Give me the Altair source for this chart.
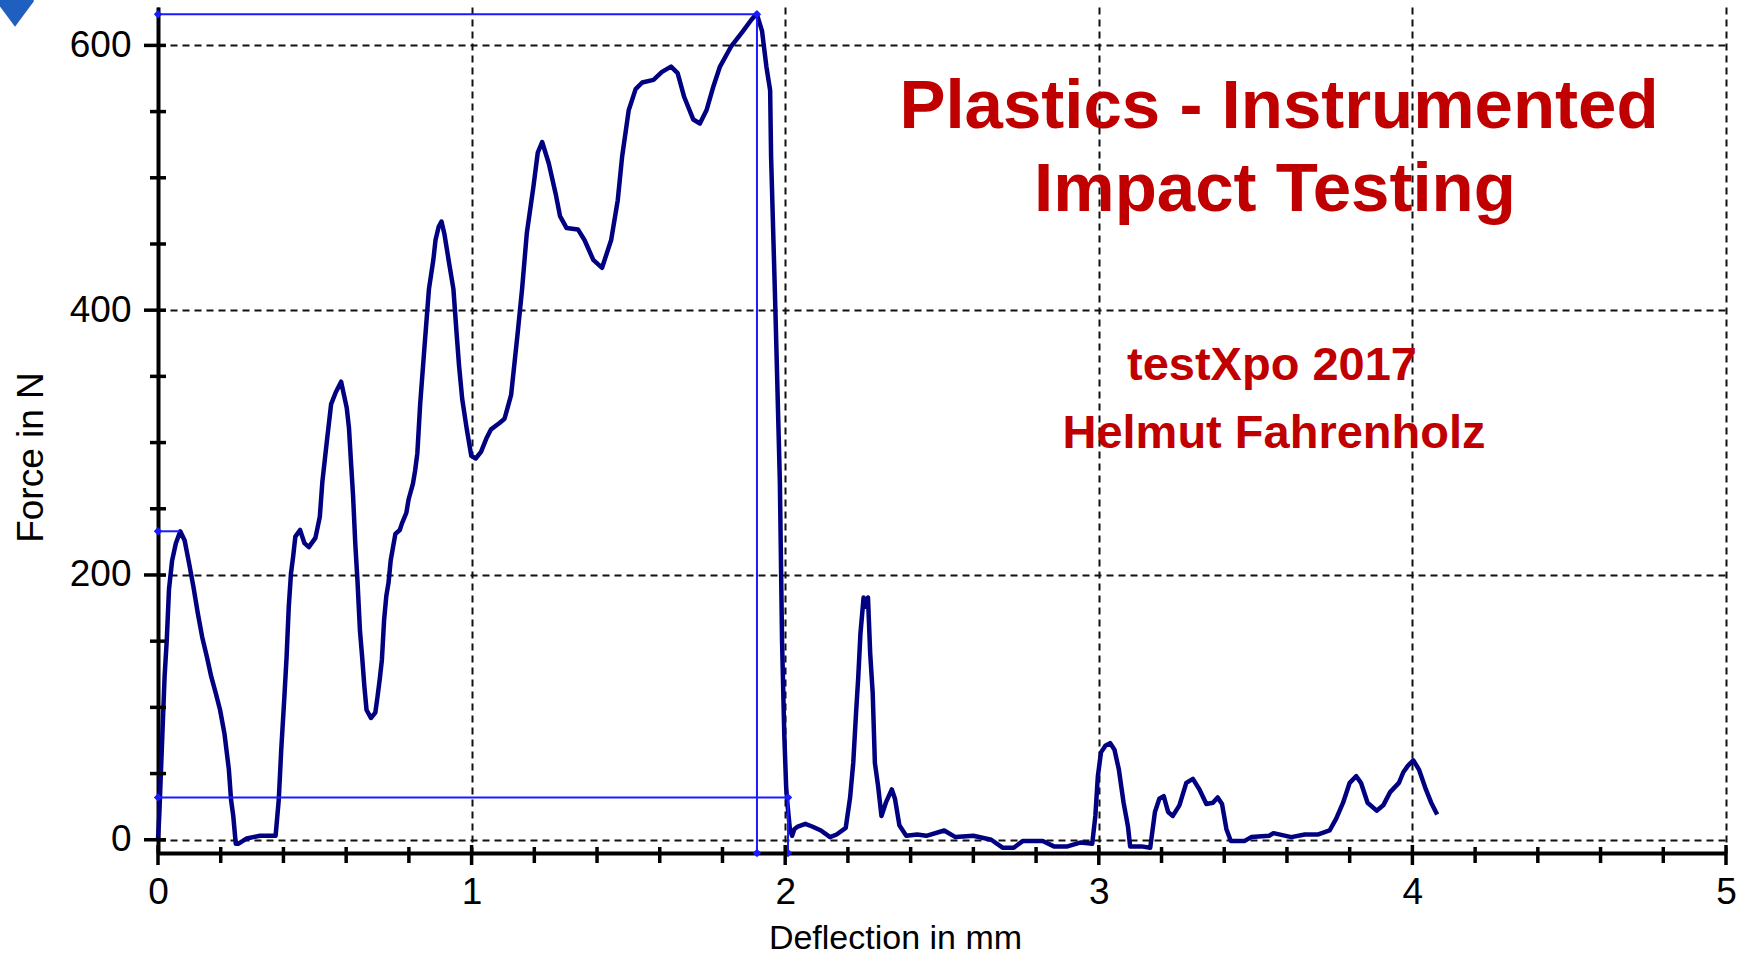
import altair as alt
import pandas as pd

# ---------------- data ----------------
deflection_mm = [
    0.000, 0.004, 0.014, 0.021, 0.028, 0.035, 0.045, 0.057, 0.071, 0.085,
    0.099, 0.113, 0.127, 0.141, 0.156, 0.170, 0.184, 0.198, 0.212, 0.226,
    0.233, 0.240, 0.248, 0.257, 0.283, 0.325, 0.375, 0.385, 0.393, 0.403,
    0.410, 0.417, 0.424, 0.431, 0.438, 0.453, 0.467, 0.481, 0.502, 0.516,
    0.524, 0.538, 0.552, 0.567, 0.584, 0.602, 0.609, 0.616, 0.622, 0.629,
    0.636, 0.644, 0.651, 0.658, 0.665, 0.679, 0.693, 0.700, 0.707, 0.714,
    0.721, 0.728, 0.735, 0.742, 0.757, 0.771, 0.778, 0.792, 0.799, 0.813,
    0.820, 0.827, 0.836, 0.850, 0.864, 0.878, 0.885, 0.895, 0.904, 0.913,
    0.928, 0.942, 0.952, 0.960, 0.970, 0.984, 0.999, 1.013, 1.030, 1.047,
    1.062, 1.090, 1.105, 1.126, 1.147, 1.161, 1.176, 1.197, 1.211, 1.225,
    1.246, 1.268, 1.282, 1.303, 1.339, 1.360, 1.388, 1.416, 1.445, 1.466,
    1.480, 1.501, 1.523, 1.544, 1.580, 1.607, 1.636, 1.657, 1.678, 1.707,
    1.728, 1.749, 1.771, 1.792, 1.827, 1.863, 1.891, 1.909, 1.926, 1.940,
    1.952, 1.955, 1.969, 1.983, 1.990, 1.997, 2.003, 2.008, 2.015, 2.022,
    2.029, 2.040, 2.064, 2.086, 2.114, 2.143, 2.164, 2.193, 2.207, 2.217,
    2.226, 2.233, 2.240, 2.250, 2.257, 2.264, 2.271, 2.279, 2.286, 2.296,
    2.307, 2.321, 2.340, 2.350, 2.364, 2.386, 2.421, 2.450, 2.507, 2.543,
    2.600, 2.657, 2.693, 2.729, 2.757, 2.821, 2.857, 2.900, 2.943, 2.979,
    2.989, 2.997, 3.007, 3.021, 3.036, 3.050, 3.064, 3.079, 3.093, 3.100,
    3.136, 3.164, 3.179, 3.193, 3.207, 3.221, 3.236, 3.257, 3.279, 3.300,
    3.321, 3.343, 3.364, 3.379, 3.393, 3.407, 3.421, 3.464, 3.486, 3.543,
    3.557, 3.614, 3.657, 3.700, 3.736, 3.757, 3.779, 3.800, 3.821, 3.836,
    3.857, 3.886, 3.907, 3.929, 3.957, 3.971, 3.986, 4.003, 4.021, 4.043,
    4.060, 4.079,
]
force_n = [
    0, 18, 80, 123, 151, 189, 211, 224, 233, 226,
    209, 191, 171, 153, 138, 123, 111, 98, 80, 53,
    30, 18, -3, -3, 1, 3, 3, 30, 68, 108,
    138, 176, 201, 214, 229, 234, 224, 221, 228, 244,
    270, 300, 329, 338, 346, 326, 311, 283, 260, 224,
    196, 158, 138, 116, 98, 92, 96, 108, 121, 136,
    166, 184, 194, 211, 231, 234, 239, 247, 257, 269,
    279, 292, 329, 373, 416, 438, 453, 463, 467, 458,
    436, 416, 383, 358, 333, 311, 290, 288, 293, 303,
    310, 315, 318, 336, 383, 416, 458, 493, 519, 527,
    511, 488, 471, 462, 461, 453, 438, 432, 453, 483,
    516, 551, 567, 572, 574, 580, 584, 579, 561, 544,
    541, 551, 569, 584, 599, 610, 619, 624, 611, 584,
    566, 516, 398, 270, 150, 80, 40, 25, 8, 3,
    8, 10, 12, 10, 7, 2, 4, 9, 32, 58,
    96, 123, 156, 183, 176, 183, 141, 111, 58, 41,
    18, 28, 38, 31, 11, 3, 4, 3, 7, 2,
    3, 0, -6, -6, -1, -1, -5, -5, -2, -3,
    18, 48, 66, 71, 73, 68, 53, 28, 10, -5,
    -5, -6, 21, 31, 33, 21, 18, 26, 43, 46,
    38, 27, 28, 32, 27, 8, -1, -1, 2, 3,
    5, 2, 4, 4, 7, 16, 28, 43, 48, 43,
    28, 22, 26, 36, 43, 51, 56, 60, 53, 38,
    28, 19,
]

# blue cursor lines (from -> to)
cursor_x1 = [0.0, 1.91, 0.0, 2.009, 0.0]
cursor_x2 = [1.91, 1.91, 2.009, 2.009, 0.07]
cursor_y1 = [623.5, 623.5, 32.0, 32.0, 233.0]
cursor_y2 = [623.5, -10.0, 32.0, -10.0, 233.0]

# cursor end markers
marker_x = [0.0, 0.0, 0.0, 1.91, 2.009, 2.009, 1.91]
marker_y = [623.5, 233.0, 32.0, -10.0, -10.0, 32.0, 623.5]

# axis labels / ticks
x_label_values = [0, 1, 2, 3, 4, 5]
y_label_values = [0, 200, 400, 600]
x_minor_ticks = [0.2, 0.4, 0.6, 0.8, 1.2, 1.4, 1.6, 1.8, 2.2, 2.4, 2.6, 2.8,
                 3.2, 3.4, 3.6, 3.8, 4.2, 4.4, 4.6, 4.8]
x_major_ticks = [0, 1, 2, 3, 4, 5]
y_minor_ticks = [50, 100, 150, 250, 300, 350, 450, 500, 550]
y_major_ticks = [0, 200, 400, 600]

title_lines = ["Plastics - Instrumented", "Impact Testing"]
sub_lines = ["testXpo 2017", "Helmut Fahrenholz"]

X_MIN, X_MAX = 0, 5
Y_MIN, Y_MAX = -10, 629

# ---------------- chart ----------------
FONT = "Liberation Sans"
RED = "#C00000"
NAVY = "#000080"
BLUE = "#1a1aff"

xs = alt.Scale(domain=[X_MIN, X_MAX], nice=False, zero=False)
ys = alt.Scale(domain=[Y_MIN, Y_MAX], nice=False, zero=False)

x_axis = alt.Axis(
    values=x_label_values, grid=True, gridDash=[7, 5], gridColor="#111111",
    gridWidth=2, ticks=False, domainColor="black", domainWidth=4,
    labelFont=FONT, labelFontSize=37, labelColor="black", labelPadding=21,
    labelFlush=False, labelOverlap=False,
    title="Deflection in mm", titleFont=FONT, titleFontSize=34,
    titleFontWeight="normal", titleColor="black", titleX=737, titleY=95,
    titleAlign="center", titleBaseline="alphabetic",
)
y_axis = alt.Axis(
    values=y_label_values, grid=True, gridDash=[7, 5], gridColor="#111111",
    gridWidth=2, ticks=False, domainColor="black", domainWidth=4,
    labelFont=FONT, labelFontSize=37, labelColor="black", labelPadding=27,
    labelFlush=False, labelOverlap=False,
    title="Force in N", titleFont=FONT, titleFontSize=37,
    titleFontWeight="normal", titleColor="black", titleX=-116, titleY=450,
    titleAngle=270, titleAlign="center", titleBaseline="alphabetic",
)


def X(field):
    return alt.X(field, type="quantitative", scale=xs, axis=x_axis)


def Y(field):
    return alt.Y(field, type="quantitative", scale=ys, axis=y_axis)


curve_df = pd.DataFrame({"x": deflection_mm, "y": force_n, "i": range(len(force_n))})
curve = alt.Chart(curve_df).mark_line(
    color=NAVY, strokeWidth=4.5, strokeJoin="round"
).encode(x=X("x"), y=Y("y"), order="i:Q")

cursor_df = pd.DataFrame({"x": cursor_x1, "x2": cursor_x2,
                          "y": cursor_y1, "y2": cursor_y2})
cursors = alt.Chart(cursor_df).mark_rule(color=BLUE, strokeWidth=2).encode(
    x=X("x"), x2="x2:Q", y=Y("y"), y2="y2:Q",
)

marker_df = pd.DataFrame({"x": marker_x, "y": marker_y})
markers = alt.Chart(marker_df).mark_point(
    shape="diamond", filled=True, color=BLUE, size=70, opacity=1
).encode(x=X("x"), y=Y("y"))


def xticks(vals, size):
    df = pd.DataFrame({"x": vals, "y": [Y_MIN] * len(vals)})
    return alt.Chart(df).mark_tick(
        orient="vertical", color="black", thickness=3.5, size=size,
        yOffset=2, opacity=1,
    ).encode(x=X("x"), y=Y("y"))


def yticks(vals, size, off):
    df = pd.DataFrame({"x": [X_MIN] * len(vals), "y": vals})
    return alt.Chart(df).mark_tick(
        orient="horizontal", color="black", thickness=3.5, size=size,
        xOffset=off, opacity=1,
    ).encode(x=X("x"), y=Y("y"))


tick_layers = [
    xticks(x_minor_ticks, 16), xticks(x_major_ticks, 20),
    yticks(y_minor_ticks, 16, 0), yticks(y_major_ticks, 22, -3),
]


def text_line(txt, x, y, size):
    return alt.Chart(pd.DataFrame({"t": [txt]})).mark_text(
        font=FONT, fontSize=size, fontWeight="bold", color=RED,
        align="center", baseline="alphabetic",
    ).encode(text="t:N", x=alt.value(x), y=alt.value(y))


texts = [
    text_line(title_lines[0], 1121, 121, 69),
    text_line(title_lines[1], 1117, 204, 69),
    text_line(sub_lines[0], 1114, 373, 47),
    text_line(sub_lines[1], 1116, 441, 47),
]

icon = alt.Chart(pd.DataFrame({"k": [0]})).mark_point(
    shape="M-1,-1L1,-1L1,-0.35L0,1L-1,-0.35Z", filled=True,
    color="#1f5fbf", size=1400, opacity=1,
).encode(x=alt.value(-143), y=alt.value(1))

chart = alt.layer(
    curve, cursors, markers, *tick_layers, *texts, icon
).properties(
    width=1568, height=846,
    padding={"left": 158, "top": 7, "right": 20, "bottom": 101},
    autosize=alt.AutoSizeParams(type="none"),
    background="white",
).configure_view(strokeWidth=0)

chart.save("out.html", embed_options={"renderer": "svg", "actions": False})
